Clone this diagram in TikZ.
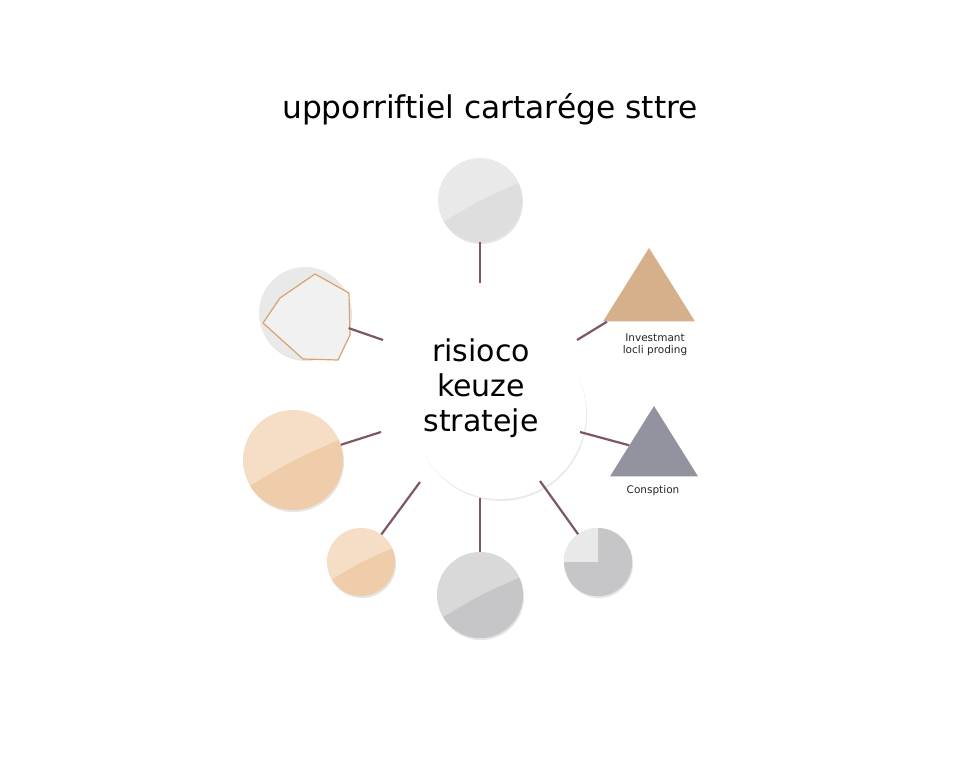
\documentclass[tikz,border=0pt]{standalone}
\usepackage{fontspec}
\setmainfont{DejaVu Sans}
\usetikzlibrary{shapes.geometric,calc,shadows}
\definecolor{linkc}{HTML}{7D5766}
\definecolor{grayA}{HTML}{E9E9E9}
\definecolor{grayB}{HTML}{DEDEDF}
\definecolor{grayC}{HTML}{D9D9DA}
\definecolor{grayD}{HTML}{C6C6C8}
\definecolor{peachA}{HTML}{F6DEC6}
\definecolor{peachB}{HTML}{EFCDAA}
\definecolor{tanc}{HTML}{D5B08A}
\definecolor{slatec}{HTML}{92939E}
\definecolor{hexc}{HTML}{D9A36E}
\tikzset{
	ball/.style n args={3}{circle,inner sep=0pt,minimum size=#1,fill=#2,
		drop shadow={shadow xshift=1pt,shadow yshift=-2pt,opacity=0.10,fill=black},
		path picture={\fill[#3] ($(path picture bounding box.south west)!0.2!(path picture bounding box.north west)$)
			.. controls (path picture bounding box.center) .. ($(path picture bounding box.south east)!0.72!(path picture bounding box.north east)$)
			-- (path picture bounding box.south east) -- (path picture bounding box.south west) -- cycle;}},
	tri/.style 2 args={isosceles triangle,isosceles triangle stretches,shape border rotate=90,inner sep=0pt,
		minimum width=#2,minimum height=0.8*#2,fill=#1},
	link/.style={draw=linkc,line width=2.2pt},
	caption/.style={font=\fontsize{10.5}{12.5}\selectfont,align=center,text=black!85}
}
\begin{document}
\begin{tikzpicture}[x=1pt,y=-1pt]
	\useasboundingbox[fill=white] (0,0) rectangle (960,768);
	\node (title) at (490,109) {\fontsize{31.3}{37}\selectfont upporriftiel cartarége sttre};

	\node [circle,fill=white,minimum size=172pt,inner sep=0pt,
		drop shadow={shadow xshift=1pt,shadow yshift=-2pt,opacity=0.08,fill=black}] (hub) at (500,413) {};
	\node [align=center,font=\fontsize{30}{35}\selectfont] (hubtext) at (481,388) {risioco\\keuze\\strateje};

	\node [ball={84pt}{grayA}{grayB}] (top) at (480,200) {};
	\node [ball={92pt}{grayA}{grayA}] (hex) at (305,313) {};
	\draw [hexc,line width=1.2pt,line join=round,fill=white!35!grayA] (315,274) -- (349,293) -- (350,335) -- (338,360) -- (303,359) -- (263,323) -- (280,298) -- cycle;
	\node [ball={100pt}{peachA}{peachB}] (peach) at (293,460) {};
	\node [ball={68pt}{peachA}{peachB}] (smallpeach) at (361,562) {};
	\node [ball={86pt}{grayC}{grayD}] (bottom) at (480,595) {};
	\node [ball={68pt}{grayD}{grayD}] (pie) at (598,562) {};
	\fill [grayA] (pie.center) -- (pie.north) arc[start angle=90,end angle=180,radius=34pt] -- cycle;

	\node [tri={tanc}{92pt}] (invest) at (649,296) {};
	\node [caption] (investtext) at (655,345) {Investmant\\locli proding};
	\node [tri={slatec}{88pt}] (consp) at (654,452) {};
	\node [caption] (consptext) at (653,491) {Consption};

	% inner ends of the spokes
	\coordinate (e-top) at (480,283);
	\coordinate (e-hex) at (383,340);
	\coordinate (e-peach) at (381,432);
	\coordinate (e-small) at (420,482);
	\coordinate (e-bottom) at (480,498);
	\coordinate (e-pie) at (540,481);
	\coordinate (e-invest) at (577,340);
	\coordinate (e-consp) at (580,432);

	\draw [link] (top) -- (e-top);
	\draw [link] (hex) -- (e-hex);
	\draw [link] (peach) -- (e-peach);
	\draw [link] (smallpeach) -- (e-small);
	\draw [link] (bottom) -- (e-bottom);
	\draw [link] (pie) -- (e-pie);
	\draw [link] (invest) -- (e-invest);
	\draw [link] (consp) -- (e-consp);
\end{tikzpicture}
\end{document}
